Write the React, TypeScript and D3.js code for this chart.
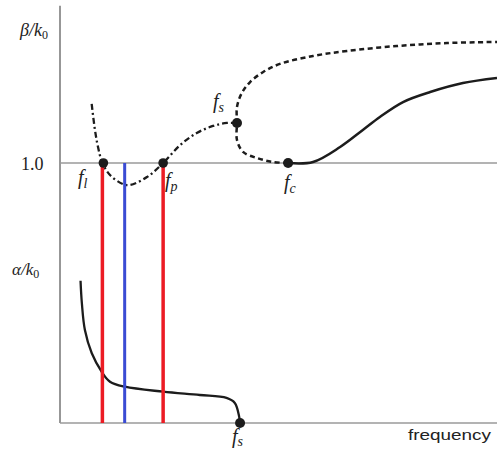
import React from "react";
import * as d3 from "d3";

// Frequency (arbitrary units) and normalized values
const dashDotF = [0.725, 0.8, 0.87, 0.97, 1.144, 1.44, 1.6, 1.99, 2.36, 2.75, 3.13, 3.5, 3.82, 4.05];
const dashDotB = [1.454, 1.254, 1.123, 1.0, 0.908, 0.838, 0.831, 0.892, 1.0, 1.138, 1.231, 1.285, 1.308, 1.308];

const dashedF = [5.22, 4.87, 4.51, 4.19, 4.05, 4.05, 4.05, 4.16, 4.35, 4.65, 5.03, 5.79, 6.57, 7.71, 8.86, 10.0];
const dashedB = [1.0, 1.008, 1.038, 1.085, 1.177, 1.308, 1.431, 1.538, 1.623, 1.7, 1.762, 1.823, 1.862, 1.9, 1.923, 1.931];

const solidF = [5.22, 5.79, 6.41, 6.93, 7.32, 7.85, 8.47, 9.22, 10.0];
const solidB = [1.0, 1.008, 1.123, 1.254, 1.354, 1.469, 1.546, 1.615, 1.654];

const alphaF = [0.47, 0.5, 0.57, 0.725, 0.954, 1.144, 1.487, 2.36, 3.2, 3.81, 4.0, 4.1, 4.12];
const alphaA = [1.016, 0.857, 0.664, 0.5, 0.366, 0.295, 0.259, 0.224, 0.2, 0.179, 0.143, 0.045, 0.0];

const fl = 0.97;
const fp = 2.36;
const fBlue = 1.48;
const fsTop = 4.05;
const fsBeta = 1.308;
const fc = 5.22;
const fsBottom = 4.12;

const W = 497;
const H = 451;

export default function App() {
  const x = d3.scaleLinear().domain([0, 10]).range([60, 497]);
  const yB = d3.scaleLinear().domain([1, 2]).range([163, 33]);
  const yA = d3.scaleLinear().domain([0, 1]).range([423, 283]);

  const lineB = d3
    .line<[number, number]>()
    .x((d) => x(d[0]))
    .y((d) => yB(d[1]))
    .curve(d3.curveCatmullRom.alpha(0.5));
  const lineA = d3
    .line<[number, number]>()
    .x((d) => x(d[0]))
    .y((d) => yA(d[1]))
    .curve(d3.curveCatmullRom.alpha(0.5));

  const zip = (a: number[], b: number[]) => a.map((v, i) => [v, b[i]] as [number, number]);

  const ink = "#1c1c1c";
  const serif = "'Liberation Serif', 'DejaVu Serif', serif";
  const sans = "'Liberation Sans', Arial, sans-serif";

  const fLabel = (px: number, py: number, sub: string, key: string, dy = 4) => (
    <text key={key} x={px} y={py} fontFamily={serif} fontStyle="italic" fontSize={20} fill="#222">
      f
      <tspan fontSize={14} dy={dy}>
        {sub}
      </tspan>
    </text>
  );

  return (
    <svg
      width={W}
      height={H}
      style={{ position: "absolute", left: 0, top: 0, background: "#fff" }}
    >
      {/* axes */}
      <line x1={x(0)} x2={x(0)} y1={yB(2.21)} y2={yA(0)} stroke="#7d7d7d" strokeWidth={1.6} />
      <line x1={x(0)} x2={x(10)} y1={yB(1)} y2={yB(1)} stroke="#9a9a9a" strokeWidth={1.5} />
      <line x1={x(0)} x2={x(10)} y1={yA(0)} y2={yA(0)} stroke="#9a9a9a" strokeWidth={1.5} />

      {/* curves */}
      <path
        d={lineB(zip(dashDotF, dashDotB)) || ""}
        fill="none"
        stroke={ink}
        strokeWidth={2.3}
        strokeDasharray="6,3,2,3"
      />
      <path
        d={lineB(zip(dashedF, dashedB)) || ""}
        fill="none"
        stroke={ink}
        strokeWidth={2.5}
        strokeDasharray="5,3.5"
      />
      <path d={lineB(zip(solidF, solidB)) || ""} fill="none" stroke={ink} strokeWidth={2.5} />
      <path d={lineA(zip(alphaF, alphaA)) || ""} fill="none" stroke={ink} strokeWidth={2.3} />

      {/* vertical markers */}
      <line x1={x(fl)} x2={x(fl)} y1={yB(1)} y2={yA(0)} stroke="#ec1c24" strokeWidth={3.5} />
      <line x1={x(fp)} x2={x(fp)} y1={yB(1)} y2={yA(0)} stroke="#ec1c24" strokeWidth={3.5} />
      <line x1={x(fBlue)} x2={x(fBlue)} y1={yB(1)} y2={yA(0)} stroke="#3a4bd4" strokeWidth={3} />

      {/* dots */}
      <circle cx={x(fl) + 1} cy={yB(1)} r={4.8} fill={ink} />
      <circle cx={x(fp)} cy={yB(1)} r={4.8} fill={ink} />
      <circle cx={x(fsTop)} cy={yB(fsBeta)} r={5} fill={ink} />
      <circle cx={x(fc)} cy={yB(1)} r={5} fill={ink} />
      <circle cx={x(fsBottom)} cy={yA(0)} r={5} fill={ink} />

      {/* labels */}
      <text x={20} y={36} fontFamily={serif} fontStyle="italic" fontSize={18} fill="#222">
        β/k
        <tspan fontSize={12} dy={3} fontStyle="normal">
          0
        </tspan>
      </text>
      <text x={21} y={170} fontFamily={serif} fontSize={18} fill="#222">
        1.0
      </text>
      <text x={12} y={275} fontFamily={serif} fontStyle="italic" fontSize={17} fill="#222">
        α/k
        <tspan fontSize={12} dy={3} fontStyle="normal">
          0
        </tspan>
      </text>
      <text x={408} y={440} fontFamily={sans} fontSize={15} fill="#222" textLength={83} lengthAdjust="spacingAndGlyphs">
        frequency
      </text>

      {fLabel(78, 184, "l", "fl")}
      {fLabel(165, 187, "p", "fp")}
      {fLabel(213, 108, "s", "fs1")}
      {fLabel(284, 189, "c", "fc")}
      {fLabel(232, 443, "s", "fs2", 3)}
    </svg>
  );
}
